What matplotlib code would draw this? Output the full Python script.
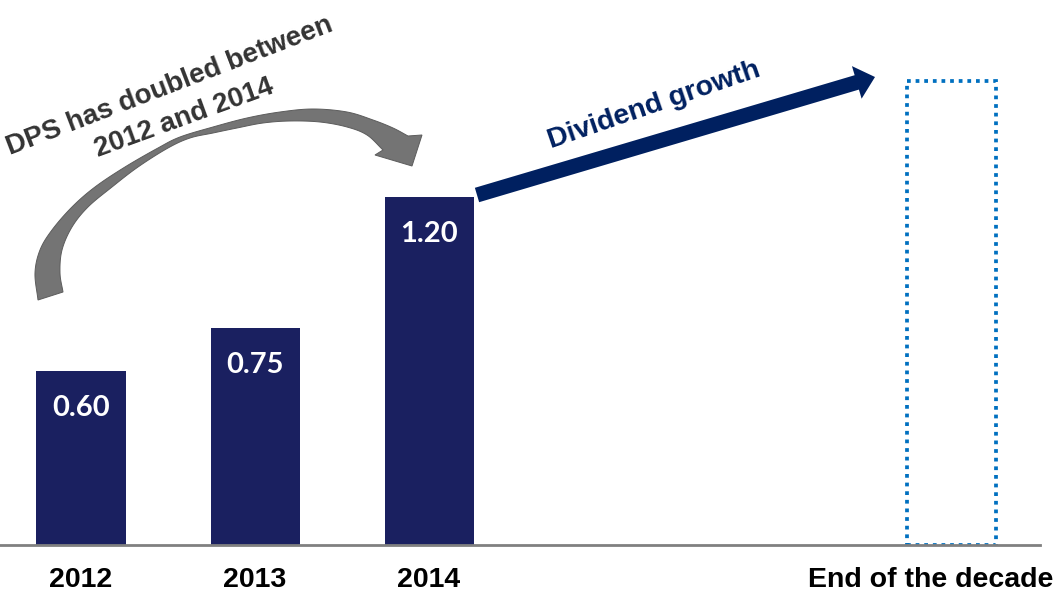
import numpy as np
import matplotlib
matplotlib.use("Agg")
import matplotlib.pyplot as plt
from matplotlib.patches import Polygon
from matplotlib.transforms import ScaledTranslation

# ---- data ----
categories = ["2012", "2013", "2014", "End of the decade"]
positions = [0, 1, 2, 5]
dps_values = [0.60, 0.75, 1.20]
value_labels = ["0.60", "0.75", "1.20"]
target_value = 1.60
note_lines = ["DPS has doubled between", "2012 and 2014"]
growth_text = "Dividend growth"

W, H = 1063, 593
fig = plt.figure(figsize=(W / 100, H / 100), dpi=100)
fig.patch.set_facecolor("white")

# main axes: baseline at y=545 px, spans x 0..1040 px
px_per_cat = 174.0
x0 = 81.0
ax = fig.add_axes([0, 48 / H, 1040 / W, 545 / H])
ax.set_xlim(-x0 / px_per_cat, (1040 - x0) / px_per_cat)
ax.set_ylim(0, 545 / 290.0)
ax.patch.set_alpha(0)

bar_w = 89 / px_per_cat
navy = "#1a2060"
ax.bar(positions[:3], dps_values, width=bar_w, color=navy, zorder=2)
ax.bar(positions[3], target_value, width=bar_w, fill=False, edgecolor="#0070c0",
       linewidth=2.7, linestyle=(0, (1, 1.3)), zorder=2)

for x, v, lab in zip(positions[:3], dps_values, value_labels):
    ax.annotate(lab, (x, v), xytext=(0, -37), textcoords="offset pixels",
                ha="center", va="center", color="white", fontsize=21,
                fontweight="bold", family="Lato", zorder=3)

for s in ["top", "left", "right"]:
    ax.spines[s].set_visible(False)
ax.spines["bottom"].set_color("#808080")
ax.spines["bottom"].set_linewidth(2.0)
ax.spines["bottom"].set_zorder(4)
ax.set_yticks([])
ax.set_xticks(positions)
ax.set_xticklabels(categories, fontsize=20.5, fontweight="bold",
                   family="Liberation Sans", color="black")
ax.tick_params(axis="x", length=0, pad=16)
lbl = ax.get_xticklabels()[-1]
lbl.set_transform(lbl.get_transform() + ScaledTranslation(-20.5 / 100, 0, fig.dpi_scale_trans))

# ---- overlay for annotations (pixel coordinates) ----
ov = fig.add_axes([0, 0, 1, 1])
ov.set_xlim(0, W)
ov.set_ylim(H, 0)
ov.axis("off")
ov.patch.set_alpha(0)


def catmull(points, n=20):
    p = np.asarray(points, float)
    p = np.vstack([2 * p[0] - p[1], p, 2 * p[-1] - p[-2]])
    out = []
    for i in range(1, len(p) - 2):
        a, b, c, d = p[i - 1], p[i], p[i + 1], p[i + 2]
        for s in np.linspace(0, 1, n, endpoint=False):
            out.append(0.5 * ((2 * b) + (-a + c) * s + (2 * a - 5 * b + 4 * c - d) * s ** 2
                              + (-a + 3 * b - 3 * c + d) * s ** 3))
    out.append(p[-2])
    return np.array(out)


# curved gray arrow (outline traced in pixel space)
outer = [(38, 300), (35, 273), (40, 250), (52, 230), (72, 207), (95, 187),
         (125, 167), (158, 148), (180, 137), (213, 127), (247, 118), (280, 112),
         (313, 109), (347, 112), (373, 120), (393, 128), (408, 136)]
head = [(422, 135), (412, 166), (375, 155)]
inner = [(383, 150), (367, 135), (347, 127), (320, 122), (290, 121), (263, 123),
         (237, 128), (213, 133), (190, 138), (168, 148), (138, 167), (112, 187),
         (88, 207), (72, 227), (62, 250), (60, 273), (63, 292)]
poly = np.vstack([catmull(outer), head, catmull(inner)])
ov.add_patch(Polygon(poly, closed=True, facecolor="#747474", edgecolor="#5c5c5c",
                     linewidth=0.7, zorder=5))

ov.text(172, 93, note_lines[0], rotation=21, ha="center", va="baseline",
        rotation_mode="anchor", fontsize=20, fontweight="bold",
        family="Liberation Sans", color="#333333", zorder=6)
ov.text(187, 125, note_lines[1], rotation=20, ha="center", va="baseline",
        rotation_mode="anchor", fontsize=20, fontweight="bold",
        family="Liberation Sans", color="#333333", zorder=6)

# straight navy arrow
start = np.array([477.0, 195.0])
tip = np.array([875.0, 77.0])
u = (tip - start) / np.linalg.norm(tip - start)
pp = np.array([-u[1], u[0]])
bc = tip - u * 19
arrow = [start + pp * 7.5, bc + pp * 7.5, bc + pp * 17, tip,
         bc - pp * 17, bc - pp * 7.5, start - pp * 7.5]
ov.add_patch(Polygon(arrow, closed=True, facecolor="#002060", edgecolor="none", zorder=5))
ov.text(654, 105, growth_text, rotation=19, ha="center", va="center",
        rotation_mode="anchor", fontsize=20.5, fontweight="bold",
        family="Liberation Sans", color="#002060", zorder=6)

fig.savefig("out.png", dpi=100)
